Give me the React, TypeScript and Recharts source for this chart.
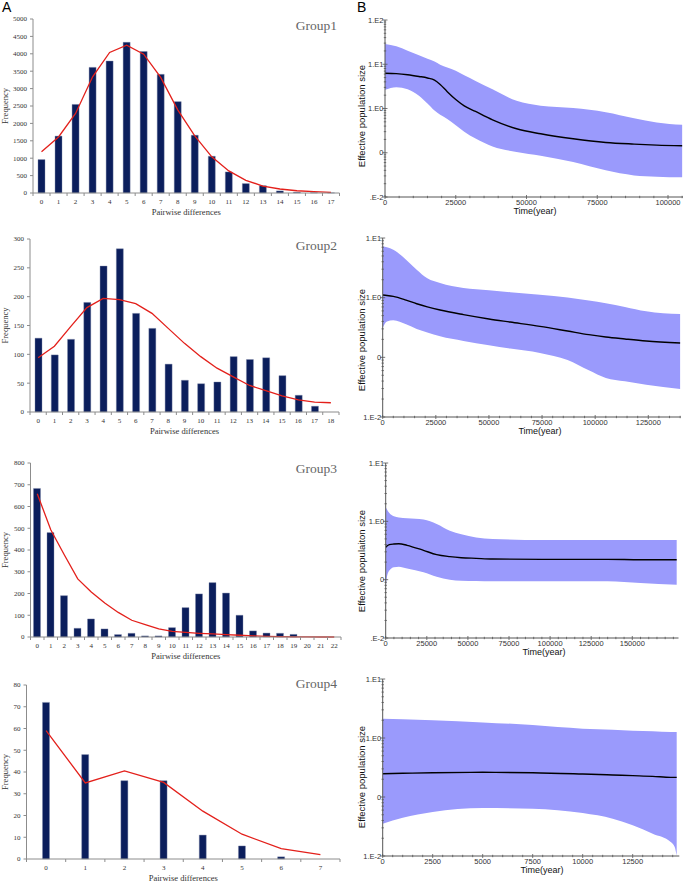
import React from "react";
import { ComposedChart, Bar, Line, Area, XAxis, YAxis } from "recharts";

const NAVY = "#0b1e5c";
const RED = "#e3201b";
const BAND = "#9a9afc";
const SERIF = "'Liberation Serif', 'Times New Roman', serif";
const SANS = "'Liberation Sans', Arial, sans-serif";

// ---- A: mismatch distributions (observed bars, expected line) ----
const G1_DIFF = ["0", "1", "2", "3", "4", "5", "6", "7", "8", "9", "10", "11", "12", "13", "14", "15", "16", "17"];
const G1_OBS = [960, 1635, 2545, 3610, 3790, 4330, 4065, 3410, 2625, 1660, 1055, 605, 270, 210, 60, 20, 8, 4];
const G1_EXP = [1185, 1610, 2285, 3340, 4040, 4250, 3990, 3320, 2390, 1640, 1040, 635, 365, 200, 115, 65, 38, 20];
const G1_YTICKS = [0, 500, 1000, 1500, 2000, 2500, 3000, 3500, 4000, 4500, 5000];

const G2_DIFF = ["0", "1", "2", "3", "4", "5", "6", "7", "8", "9", "10", "11", "12", "13", "14", "15", "16", "17", "18"];
const G2_OBS = [128, 99, 126, 190, 253, 283, 171, 145, 83, 55, 49, 52, 96, 91, 94, 63, 29, 10, 0];
const G2_EXP = [94, 114, 148, 181, 197, 195, 188, 171, 145, 119, 96, 76, 61, 46, 37, 28, 21, 17, 16];
const G2_YTICKS = [0, 50, 100, 150, 200, 250, 300];

const G3_DIFF = ["0", "1", "2", "3", "4", "5", "6", "7", "8", "9", "10", "11", "12", "13", "14", "15", "16", "17", "18", "19", "20", "21", "22"];
const G3_OBS = [683, 480, 190, 40, 83, 37, 11, 17, 5, 5, 43, 135, 198, 250, 202, 100, 28, 18, 17, 12, 0, 0, 0];
const G3_EXP = [659, 493, 378, 267, 207, 156, 113, 77, 57, 37, 26, 21, 17, 14, 11, 8, 5, 3, 2, 1, 1, 0, 0];
const G3_YTICKS = [0, 100, 200, 300, 400, 500, 600, 700, 800];

const G4_DIFF = ["0", "1", "2", "3", "4", "5", "6", "7"];
const G4_OBS = [72, 48, 36, 36, 11, 6, 1, 0];
const G4_EXP = [59, 35, 40.5, 35.2, 22, 11.4, 4.8, 2];
const G4_YTICKS = [0, 10, 20, 30, 40, 50, 60, 70, 80];

// ---- B: Bayesian skyline plots (median + 95% HPD) ----
const S1_TIME = [0, 4000, 8000, 12000, 15000, 17500, 19500, 22000, 25000, 28000, 32000, 38000, 46500, 55000, 66500, 78000, 88000, 96000, 105000];
const S1_MED = [6.27, 6.15, 5.8, 5.3, 4.9, 4.4, 3.5, 2.4, 1.6, 1.15, 0.856, 0.555, 0.348, 0.268, 0.207, 0.171, 0.157, 0.149, 0.144];
const S1_UP = [28.8, 25.5, 20.3, 16.0, 13.3, 11.5, 9.8, 8.4, 7.1, 5.65, 4.21, 2.73, 1.49, 1.15, 1.02, 0.826, 0.605, 0.483, 0.428];
const S1_LO = [2.64, 3.03, 2.73, 1.95, 1.3, 0.9, 0.72, 0.58, 0.42, 0.3, 0.21, 0.139, 0.1035, 0.0855, 0.0616, 0.04, 0.0308, 0.0288, 0.0278];
const S1_XTICKS = [0, 25000, 50000, 75000, 100000];
const S1_YLABELS: [number, string][] = [[0.01, ".E-2"], [0.1, "0"], [1, "1.E0"], [10, "1.E1"], [100, "1.E2"]];

const S2_TIME = [0, 2000, 5000, 11000, 16000, 21000, 27000, 38000, 50000, 60000, 74000, 87000, 97000, 105000, 114000, 124000, 140000];
const S2_MED = [1.11, 1.09, 1.05, 0.91, 0.79, 0.7, 0.62, 0.52, 0.44, 0.39, 0.33, 0.276, 0.24, 0.219, 0.203, 0.188, 0.174];
const S2_UP = [7.25, 6.98, 6.37, 4.33, 2.94, 2.11, 1.76, 1.45, 1.33, 1.23, 1.12, 1.01, 0.9, 0.81, 0.7, 0.59, 0.53];
const S2_LO = [0.31, 0.4, 0.417, 0.357, 0.298, 0.262, 0.225, 0.188, 0.159, 0.14, 0.118, 0.09, 0.0605, 0.045, 0.0396, 0.0348, 0.0294];
const S2_XTICKS = [0, 25000, 50000, 75000, 100000, 125000];
const S2_YLABELS: [number, string][] = [[0.01, "1.E-2"], [0.1, "0"], [1, "1.E0"], [10, "1.E1"]];

const S3_TIME = [0, 600, 2200, 5000, 8000, 13000, 23000, 31000, 39000, 46000, 55000, 65000, 95000, 135000, 155000, 177000];
const S3_MED = [0.358, 0.373, 0.398, 0.409, 0.414, 0.388, 0.318, 0.268, 0.248, 0.238, 0.232, 0.226, 0.223, 0.223, 0.22, 0.22];
const S3_UP = [1.74, 1.63, 1.39, 1.22, 1.16, 1.13, 1.07, 0.9, 0.69, 0.6, 0.53, 0.5, 0.479, 0.479, 0.479, 0.479];
const S3_LO = [0.069, 0.103, 0.143, 0.163, 0.167, 0.156, 0.134, 0.112, 0.1, 0.096, 0.095, 0.094, 0.094, 0.094, 0.088, 0.082];
const S3_XTICKS = [0, 25000, 50000, 75000, 100000, 125000, 150000];
const S3_YLABELS: [number, string][] = [[0.01, ".E-2"], [0.1, "0"], [1, "1.E0"], [10, "1.E1"]];

const S4_TIME = [0, 1000, 2500, 5000, 7500, 10000, 11500, 12500, 13500, 14400, 14600, 14700];
const S4_MED = [0.248, 0.252, 0.258, 0.262, 0.258, 0.245, 0.236, 0.23, 0.224, 0.215, 0.215, 0.215];
const S4_UP = [2.13, 2.07, 1.99, 1.84, 1.66, 1.44, 1.38, 1.33, 1.3, 1.26, 1.26, 1.26];
const S4_LO = [0.0353, 0.0447, 0.0557, 0.0651, 0.0634, 0.0536, 0.043, 0.0331, 0.0239, 0.0173, 0.0142, 0.0101];
const S4_XTICKS = [0, 2500, 5000, 7500, 10000, 12500];
const S4_YLABELS: [number, string][] = [[0.01, "1.E-2"], [0.1, "0"], [1, "1.E0"], [10, "1.E1"]];

function CategoryTick(props: any) {
  const { x, payload, index, axisY, band, count } = props;
  return (
    <g>
      <line x1={x - band / 2} x2={x - band / 2} y1={axisY} y2={axisY + 3} stroke="#8c8c8c" />
      {index === count - 1 && (
        <line x1={x + band / 2} x2={x + band / 2} y1={axisY} y2={axisY + 3} stroke="#8c8c8c" />
      )}
      <text x={x} y={axisY + 6} dy="0.71em" textAnchor="middle" fontSize={7} fontFamily={SERIF} fill="#333">
        {payload.value}
      </text>
    </g>
  );
}

function MismatchPanel(p: {
  top: number; plotTop: number; plotBottom: number; plotLeft: number; plotRight: number;
  cats: string[]; obs: number[]; exp: number[]; yTicks: number[];
}) {
  const rows = p.cats.map((d, i) => ({ d, obs: p.obs[i], exp: p.exp[i] }));
  const height = p.plotBottom + 12 - p.top;
  const band = (p.plotRight - p.plotLeft) / p.cats.length;
  const axisY = p.plotBottom - p.top;
  return (
    <div style={{ position: "absolute", left: 0, top: p.top }}>
      <ComposedChart
        width={342}
        height={height}
        data={rows}
        margin={{ top: p.plotTop - p.top, right: 342 - p.plotRight, bottom: 0, left: 0 }}
      >
        <XAxis
          dataKey="d"
          interval={0}
          height={12}
          axisLine={{ stroke: "#8c8c8c" }}
          tickLine={false}
          tick={(t: any) => <CategoryTick {...t} axisY={axisY} band={band} count={p.cats.length} />}
        />
        <YAxis
          type="number"
          width={p.plotLeft}
          domain={[0, p.yTicks[p.yTicks.length - 1]]}
          ticks={p.yTicks}
          interval={0}
          stroke="#8c8c8c"
          tickSize={3}
          tickMargin={3}
          tick={{ fontSize: 7, fontFamily: SERIF, fill: "#333" }}
        />
        <Bar dataKey="obs" fill={NAVY} stroke="#7d88a8" strokeWidth={0.4} barSize={7} isAnimationActive={false} />
        <Line dataKey="exp" type="linear" stroke={RED} strokeWidth={1.3} dot={false} isAnimationActive={false} />
      </ComposedChart>
    </div>
  );
}

function LogTick(props: any) {
  const { y, payload, axisX, labels } = props;
  const hit = (labels as [number, string][]).find(([v]) => Math.abs(v - payload.value) < v * 1e-6);
  const len = hit ? 2.5 : 1.2;
  return (
    <g>
      <line x1={axisX - len} x2={axisX + len} y1={y} y2={y} stroke="#555" strokeWidth={0.8} />
      {hit && (
        <text x={axisX - 1.5} y={y} dy="0.35em" textAnchor="end" fontSize={7.5} fontFamily={SANS} fill="#333">
          {hit[1]}
        </text>
      )}
    </g>
  );
}

function TimeTick(props: any) {
  const { x, payload, axisY, majors } = props;
  const major = (majors as number[]).includes(payload.value);
  return (
    <g>
      <line x1={x} x2={x} y1={axisY - (major ? 2 : 1.2)} y2={axisY + (major ? 2 : 1.2)} stroke="#555" strokeWidth={0.8} />
      {major && (
        <text x={x} y={axisY + 3} dy="0.71em" textAnchor="middle" fontSize={7.5} fontFamily={SANS} fill="#333">
          {payload.value}
        </text>
      )}
    </g>
  );
}

function SkylinePanel(p: {
  top: number; plotTop: number; plotBottom: number; plotLeft: number; plotRight: number;
  times: number[]; lower: number[]; median: number[]; upper: number[];
  xMax: number; xTicks: number[]; xMinor: number; yMax: number; yLabels: [number, string][];
}) {
  const rows = p.times.map((t, i) => ({ t, band: [p.lower[i], p.upper[i]], mid: p.median[i] }));
  const left = 342;
  const width = 685 - left;
  const height = p.plotBottom + 12 - p.top;
  const axisX = p.plotLeft - left;
  const axisY = p.plotBottom - p.top;
  const yTicks: number[] = [];
  for (let dec = 0.01; dec < p.yMax * 0.999; dec *= 10) {
    for (let k = 1; k < 10; k++) yTicks.push(+(dec * k).toPrecision(6));
  }
  yTicks.push(p.yMax);
  const xTicks: number[] = [];
  for (let v = 0; v <= p.xMax; v += p.xMinor) xTicks.push(v);
  return (
    <div style={{ position: "absolute", left, top: p.top }}>
      <ComposedChart
        width={width}
        height={height}
        data={rows}
        margin={{ top: p.plotTop - p.top, right: 685 - p.plotRight, bottom: 0, left: 0 }}
      >
        <XAxis
          dataKey="t"
          type="number"
          domain={[0, p.xMax]}
          allowDataOverflow
          ticks={xTicks}
          interval={0}
          height={12}
          stroke="#555"
          tickLine={false}
          tick={(t: any) => <TimeTick {...t} axisY={axisY} majors={p.xTicks} />}
        />
        <YAxis
          type="number"
          scale="log"
          domain={[0.01, p.yMax]}
          allowDataOverflow
          ticks={yTicks}
          interval={0}
          width={axisX}
          stroke="#555"
          tickLine={false}
          tick={(t: any) => <LogTick {...t} axisX={axisX} labels={p.yLabels} />}
        />
        <YAxis yAxisId="frame" orientation="right" width={0} tick={false} tickLine={false} stroke="#9a9a9a" />
        <Area dataKey="band" type="monotone" stroke="none" fill={BAND} fillOpacity={1} isAnimationActive={false} />
        <Line dataKey="mid" type="monotone" stroke="#000" strokeWidth={1.4} dot={false} isAnimationActive={false} />
      </ComposedChart>
    </div>
  );
}

const LEFT_BOXES = [
  { top: 19, bottom: 193, left: 33, right: 339.5 },
  { top: 239, bottom: 412, left: 30, right: 339 },
  { top: 463, bottom: 637, left: 30.5, right: 341 },
  { top: 685, bottom: 859, left: 26.5, right: 340 },
];
const RIGHT_BOXES = [
  { top: 20, bottom: 197, left: 385, right: 683 },
  { top: 238.3, bottom: 417.3, left: 382.7, right: 680.7 },
  { top: 463.3, bottom: 638.3, left: 385.7, right: 678.5 },
  { top: 679, bottom: 856, left: 382.7, right: 679.3 },
];
const GROUPS = ["Group1", "Group2", "Group3", "Group4"];
const GROUP_BASELINE = [29.5, 249.5, 473.3, 687.5];
const NE_LABELS = ["Effective population size", "Effective population size", "Effective populaiton size", "Effective population size"];
const NE_CENTER = [116, 340, 561, 777];
const TIME_CENTER = [535, 540, 544, 542];

export default function App() {
  const mism = [
    { cats: G1_DIFF, obs: G1_OBS, exp: G1_EXP, yTicks: G1_YTICKS },
    { cats: G2_DIFF, obs: G2_OBS, exp: G2_EXP, yTicks: G2_YTICKS },
    { cats: G3_DIFF, obs: G3_OBS, exp: G3_EXP, yTicks: G3_YTICKS },
    { cats: G4_DIFF, obs: G4_OBS, exp: G4_EXP, yTicks: G4_YTICKS },
  ];
  const sky = [
    { times: S1_TIME, median: S1_MED, upper: S1_UP, lower: S1_LO, xTicks: S1_XTICKS, xMax: 105300, xMinor: 5000, yMax: 100, yLabels: S1_YLABELS },
    { times: S2_TIME, median: S2_MED, upper: S2_UP, lower: S2_LO, xTicks: S2_XTICKS, xMax: 140250, xMinor: 5000, yMax: 10, yLabels: S2_YLABELS },
    { times: S3_TIME, median: S3_MED, upper: S3_UP, lower: S3_LO, xTicks: S3_XTICKS, xMax: 178100, xMinor: 5000, yMax: 10, yLabels: S3_YLABELS },
    { times: S4_TIME, median: S4_MED, upper: S4_UP, lower: S4_LO, xTicks: S4_XTICKS, xMax: 14830, xMinor: 500, yMax: 10, yLabels: S4_YLABELS },
  ];
  return (
    <div style={{ position: "absolute", left: 0, top: 0, width: 685, height: 882, background: "#fff", overflow: "hidden" }}>
      {mism.map((m, i) => {
        const b = LEFT_BOXES[i];
        return (
          <MismatchPanel
            key={i}
            top={b.top - 10}
            plotTop={b.top}
            plotBottom={b.bottom}
            plotLeft={b.left}
            plotRight={b.right}
            {...m}
          />
        );
      })}
      {sky.map((s, i) => {
        const b = RIGHT_BOXES[i];
        return (
          <SkylinePanel
            key={i}
            top={b.top - 10}
            plotTop={b.top}
            plotBottom={b.bottom}
            plotLeft={b.left}
            plotRight={b.right}
            {...s}
          />
        );
      })}
      <svg width={685} height={882} style={{ position: "absolute", left: 0, top: 0, pointerEvents: "none" }}>
        <text x={2} y={12} fontSize={14} fontFamily={SANS} fill="#000">A</text>
        <text x={357} y={12} fontSize={14} fontFamily={SANS} fill="#000">B</text>
        {LEFT_BOXES.map((b, i) => (
          <g key={i}>
            <text x={337} y={GROUP_BASELINE[i]} textAnchor="end" fontSize={13.5} fontFamily={SERIF} fill="#666">
              {GROUPS[i]}
            </text>
            <text transform={`translate(8.3,${(b.top + b.bottom) / 2}) rotate(-90)`} textAnchor="middle" fontSize={8.5} fontFamily={SERIF} fill="#333">
              Frequency
            </text>
            <text x={(b.left + b.right) / 2} y={b.bottom + 21.5} textAnchor="middle" fontSize={8.5} fontFamily={SERIF} fill="#333">
              Pairwise differences
            </text>
          </g>
        ))}
        {RIGHT_BOXES.map((b, i) => (
          <g key={i}>
            <text transform={`translate(365,${NE_CENTER[i]}) rotate(-90)`} textAnchor="middle" fontSize={9.5} fontFamily={SANS} fill="#111">
              {NE_LABELS[i]}
            </text>
            <text x={TIME_CENTER[i]} y={b.bottom + 17} textAnchor="middle" fontSize={9} fontFamily={SANS} fill="#111">
              Time(year)
            </text>
          </g>
        ))}
      </svg>
    </div>
  );
}
